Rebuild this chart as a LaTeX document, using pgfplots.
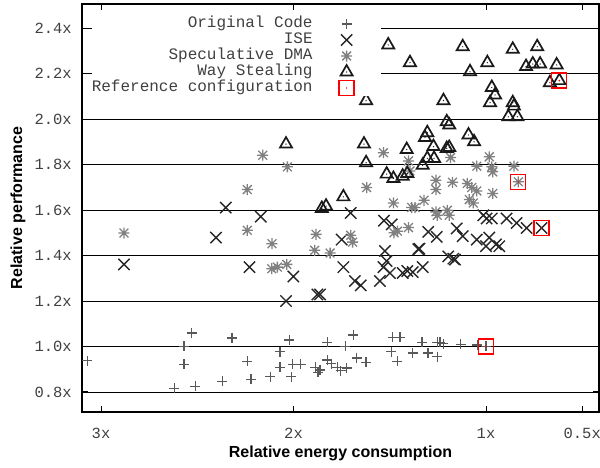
\documentclass[border=0pt]{standalone}
\usepackage{pgfplots}
\pgfplotsset{compat=1.18}
\usepackage{fontspec}
\setmainfont{Liberation Sans}
\newfontfamily\monofont{Liberation Mono}
\pgfdeclareplotmark{gpstar}{%
  \pgfpathmoveto{\pgfqpoint{-\pgfplotmarksize}{0pt}}%
  \pgfpathlineto{\pgfqpoint{\pgfplotmarksize}{0pt}}%
  \pgfpathmoveto{\pgfqpoint{0pt}{-\pgfplotmarksize}}%
  \pgfpathlineto{\pgfqpoint{0pt}{\pgfplotmarksize}}%
  \pgfpathmoveto{\pgfqpoint{-.8\pgfplotmarksize}{-.8\pgfplotmarksize}}%
  \pgfpathlineto{\pgfqpoint{.8\pgfplotmarksize}{.8\pgfplotmarksize}}%
  \pgfpathmoveto{\pgfqpoint{-.8\pgfplotmarksize}{.8\pgfplotmarksize}}%
  \pgfpathlineto{\pgfqpoint{.8\pgfplotmarksize}{-.8\pgfplotmarksize}}%
  \pgfusepathqstroke}
\pgfdeclareplotmark{gptri}{%
  \pgfpathmoveto{\pgfqpoint{0pt}{\pgfplotmarksize}}%
  \pgfpathlineto{\pgfqpoint{-.866\pgfplotmarksize}{-.5\pgfplotmarksize}}%
  \pgfpathlineto{\pgfqpoint{.866\pgfplotmarksize}{-.5\pgfplotmarksize}}%
  \pgfpathclose\pgfusepathqstroke
  \pgfpathcircle{\pgfpointorigin}{0.7pt}\pgfusepathqfill}
\pgfdeclareplotmark{gpsq}{%
  \pgfpathrectangle{\pgfqpoint{-\pgfplotmarksize}{-\pgfplotmarksize}}{\pgfqpoint{2\pgfplotmarksize}{2\pgfplotmarksize}}%
  \pgfusepathqstroke
  \pgfpathcircle{\pgfpointorigin}{0.8pt}\pgfusepathqfill}
\begin{document}
\begin{tikzpicture}
\path[use as bounding box] (-82pt,-56pt) rectangle (518pt,412pt);
\begin{axis}[
  at={(0pt,0pt)}, anchor=south west, scale only axis,
  width=517pt, height=408pt,
  x dir=reverse, xmin=0.413, xmax=3.099, ymin=0.712, ymax=2.506,
  xtick={0.5,1,2,3}, xticklabels={0.5x,1x,2x,3x},
  ytick={0.8,1.0,1.2,1.4,1.6,1.8,2.0,2.2,2.4},
  yticklabels={0.8x,1.0x,1.2x,1.4x,1.6x,1.8x,2.0x,2.2x,2.4x},
  ymajorgrids, grid style={black, line width=0.8pt},
  major tick length=6pt, tick style={black, line width=1pt},
  axis line style={line width=1.3pt},
  tick label style={font=\monofont\fontsize{15.5}{18}\selectfont, text=black!75, inner sep=0pt},
  yticklabel style={anchor=east, xshift=-10pt},
  xticklabel style={anchor=center, yshift=-21pt},
  xlabel={Relative energy consumption}, ylabel={Relative performance},
  label style={font=\bfseries\fontsize{16}{19}\selectfont},
  xlabel style={at={(axis description cs:0.5,-0.1005)}, anchor=center},
  ylabel style={at={(axis description cs:-0.1238,0.5)}, anchor=center},
  legend style={at={(axis description cs:0.578,0.971)}, anchor=north east, draw=none, fill=white, inner sep=0pt,
    font=\monofont\fontsize{16}{16}\selectfont, text=black!75,
    nodes={inner sep=0pt, text height=11pt, text depth=5pt}, row sep=0pt},
  legend cell align=right,
  legend plot pos=right,
  legend image code/.code={\path[draw=none,fill=none] (0pt,-6pt) (68pt,6pt);\draw[mark repeat=2,mark phase=2,#1] plot coordinates {(0pt,0pt) (34pt,0pt) (68pt,0pt)};},
]
\addplot[only marks, mark=+, mark size=5pt, black!65, line width=1.3pt] coordinates {
(3.071,0.938) (2.529,1.059) (2.569,1.000) (2.569,0.921) (2.619,0.816) (2.510,0.825)
(2.319,1.038) (2.370,0.847) (2.240,0.935) (2.221,0.855) (2.120,0.868) (2.070,0.977)
(2.022,1.029) (2.070,0.909) (2.011,0.868) (2.004,0.921) (1.963,0.921) (1.887,0.909)
(1.873,0.887) (1.862,0.897) (1.824,1.018) (1.824,0.941) (1.804,0.924) (1.772,0.909)
(1.755,0.894) (1.724,0.906) (1.731,1.000) (1.689,1.050) (1.672,0.950) (1.623,0.930)
(1.492,0.977) (1.485,1.041) (1.447,1.041) (1.461,0.935) (1.381,0.971) (1.332,1.018)
(1.301,0.971) (1.253,1.018) (1.239,1.018) (1.253,0.956) (1.221,1.012) (1.131,1.009)
(1.045,1.006) (1.000,1.000)
};
\addlegendentry{Original Code}
\addplot[only marks, mark=x, mark size=8pt, black!85, line width=1.4pt] coordinates {
(2.352,1.611) (2.170,1.571) (2.403,1.479) (2.881,1.361) (2.229,1.349) (2.001,1.308)
(2.039,1.200) (1.876,1.229) (1.862,1.229) (1.703,1.587) (1.750,1.470) (1.741,1.349)
(1.681,1.288) (1.651,1.269) (1.551,1.288) (1.525,1.420) (1.516,1.376) (1.533,1.349)
(1.499,1.323) (1.530,1.553) (1.490,1.537) (1.433,1.323) (1.409,1.332) (1.381,1.327)
(1.329,1.349) (1.346,1.430) (1.352,1.428) (1.300,1.504) (1.256,1.482) (1.196,1.396)
(1.170,1.386) (1.161,1.382) (1.152,1.519) (1.121,1.485) (1.048,1.470) (1.000,1.441)
(0.983,1.479) (0.948,1.449) (0.931,1.441) (1.014,1.577) (0.997,1.563) (0.970,1.563)
(0.893,1.563) (0.841,1.543) (0.789,1.521) (0.711,1.521)
};
\addlegendentry{ISE}
\addplot[only marks, mark=gpstar, mark size=5.5pt, black!50, line width=1.3pt] coordinates {
(2.160,1.841) (2.032,1.790) (2.240,1.690) (2.240,1.511) (2.881,1.499) (1.883,1.493)
(2.112,1.452) (1.890,1.423) (1.810,1.411) (2.113,1.342) (2.084,1.349) (2.035,1.361)
(1.533,1.852) (1.403,1.816) (1.184,1.831) (0.983,1.834) (1.048,1.793) (0.970,1.790)
(0.965,1.768) (0.855,1.793) (0.832,1.724) (1.395,1.772) (1.620,1.699) (1.260,1.731)
(1.174,1.722) (1.260,1.690) (1.097,1.717) (1.074,1.699) (1.048,1.684) (0.965,1.673)
(1.322,1.643) (1.481,1.631) (1.386,1.611) (1.369,1.611) (1.087,1.646) (1.066,1.631)
(1.260,1.592) (1.253,1.577) (1.201,1.599) (1.191,1.577) (1.403,1.523) (1.478,1.500)
(1.460,1.507) (1.703,1.489) (1.693,1.459)
};
\addlegendentry{Speculative DMA}
\addplot[only marks, mark=gptri, mark size=7pt, black!90, line width=1.7pt] coordinates {
(1.508,2.326) (1.121,2.318) (0.861,2.307) (0.734,2.318) (1.395,2.248) (0.993,2.248)
(1.083,2.208) (0.792,2.231) (0.757,2.242) (0.719,2.242) (0.633,2.238) (0.668,2.160)
(0.619,2.169) (0.970,2.139) (0.953,2.106) (1.623,2.081) (1.221,2.081) (0.979,2.072)
(0.861,2.072) (0.855,2.057) (0.884,2.010) (0.837,2.010) (1.204,1.988) (1.191,1.974)
(1.305,1.940) (1.317,1.919) (1.091,1.930) (1.062,1.900) (1.273,1.879) (1.204,1.871)
(1.191,1.875) (1.634,1.890) (1.412,1.866) (1.305,1.827) (1.270,1.827) (1.329,1.797)
(1.623,1.808) (1.516,1.758) (1.481,1.739) (1.433,1.749) (1.409,1.761) (1.741,1.658)
(2.039,1.890) (1.853,1.607) (1.831,1.617)
};
\addlegendentry{Way Stealing}
\addplot[only marks, mark=gpsq, mark size=7.5pt, red, line width=1.3pt] coordinates {
(1.000,1.000) (0.711,1.521) (0.832,1.724) (0.619,2.169)
};
\addlegendentry{Reference configuration}
\end{axis}
\end{tikzpicture}
\end{document}
